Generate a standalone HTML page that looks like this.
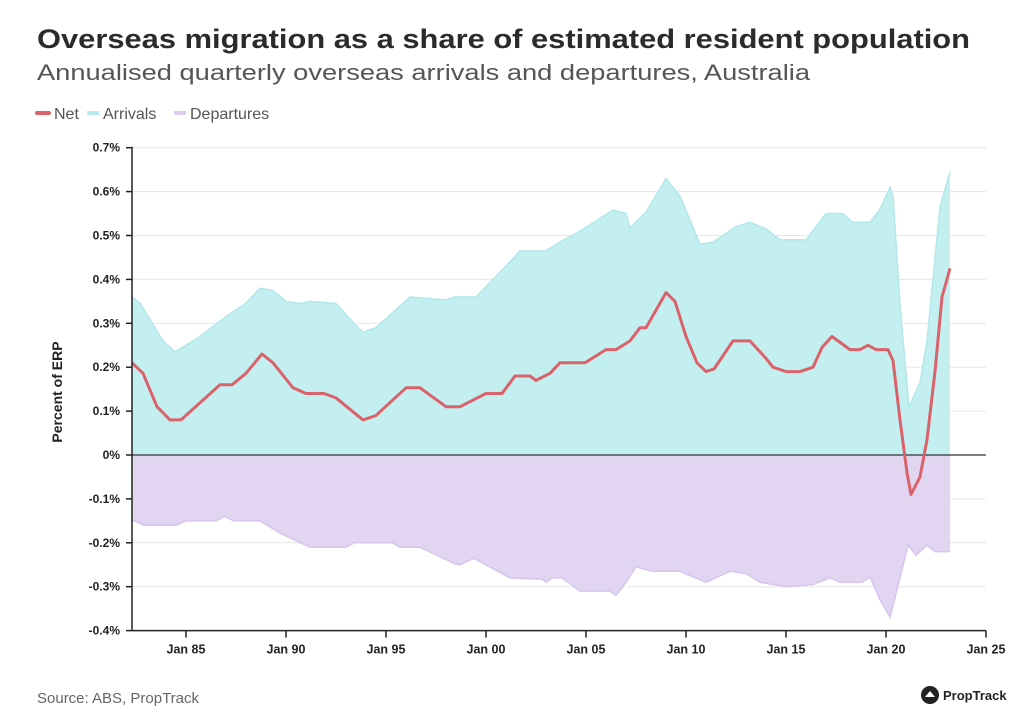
<!DOCTYPE html>
<html><head><meta charset="utf-8"><style>
body{margin:0;background:#fff;}
svg{display:block;font-family:"Liberation Sans",sans-serif;}
</style></head><body>
<svg id="chart" width="1025" height="720" viewBox="0 0 1025 720">
<text x="37" y="48" font-size="27" font-weight="bold" fill="#2b2b2b" textLength="933" lengthAdjust="spacingAndGlyphs">Overseas migration as a share of estimated resident population</text>
<text x="37" y="80" font-size="22" fill="#555" textLength="773" lengthAdjust="spacingAndGlyphs">Annualised quarterly overseas arrivals and departures, Australia</text>
<g>
<g><line x1="37" y1="113" x2="49" y2="113" stroke="#d9626b" stroke-width="4" stroke-linecap="round"/><text x="54" y="119" font-size="16" fill="#555">Net</text></g>
<g><line x1="87" y1="113" x2="99" y2="113" stroke="#b6eaec" stroke-width="4"/><text x="103" y="119" font-size="16" fill="#555">Arrivals</text></g>
<g><line x1="174" y1="113" x2="186" y2="113" stroke="#dccdf0" stroke-width="4"/><text x="190" y="119" font-size="16" fill="#555">Departures</text></g>
</g>
<text transform="translate(62,392) rotate(-90)" text-anchor="middle" font-size="14" font-weight="bold" fill="#222">Percent of ERP</text>
<g id="grid"></g>
<g id="areas"></g>
<g id="axes"></g>
<text x="37" y="703" font-size="15" fill="#666">Source: ABS, PropTrack</text>
<g>
<circle cx="930" cy="695" r="9" fill="#222"/>
<path d="M925 697 L930 691 L935 697 Z" fill="#fff"/>
<text x="943" y="700" font-size="13" font-weight="bold" fill="#222">PropTrack</text>
</g>
</svg>
<script>
const arrYears=[1982.3,1982.7,1983.85,1984.45,1985,1985.7,1987,1988,1988.7,1989.35,1990,1990.8,1991.2,1992.5,1993.4,1993.85,1994.5,1996.2,1998,1998.4,1999.5,2001.2,2001.7,2003,2003.5,2004.7,2006.35,2007,2007.2,2008,2009,2009.7,2010.7,2011.35,2012.5,2013.2,2014,2014.7,2016,2017,2017.85,2018.3,2019.2,2019.7,2020.2,2020.35,2020.7,2021.15,2021.7,2022.05,2022.7,2023.2];
const arrivals=[0.36,0.346,0.26,0.235,0.25,0.27,0.315,0.346,0.38,0.375,0.35,0.345,0.35,0.345,0.30,0.28,0.29,0.36,0.353,0.36,0.36,0.44,0.465,0.465,0.48,0.51,0.558,0.55,0.517,0.553,0.63,0.59,0.48,0.485,0.52,0.53,0.515,0.49,0.49,0.55,0.55,0.53,0.53,0.56,0.61,0.59,0.34,0.11,0.165,0.26,0.565,0.645];
const depYears=[1982.3,1982.9,1984.5,1985,1986.5,1986.9,1987.4,1988.7,1989.7,1991.2,1993,1993.4,1995.3,1995.7,1996.7,1998.4,1998.7,1999.4,2000,2001.2,2002.8,2003,2003.3,2003.8,2004.7,2006.2,2006.5,2007,2007.5,2008.3,2009.7,2011,2012.2,2013,2013.7,2015,2016.35,2017.2,2017.7,2018.8,2019.2,2019.7,2020.2,2020.7,2021.1,2021.5,2022.05,2022.45,2023.2];
const departures=[-0.148,-0.16,-0.16,-0.15,-0.15,-0.14,-0.15,-0.15,-0.178,-0.21,-0.21,-0.2,-0.2,-0.21,-0.21,-0.247,-0.25,-0.235,-0.25,-0.28,-0.283,-0.29,-0.28,-0.28,-0.31,-0.31,-0.32,-0.29,-0.255,-0.265,-0.265,-0.29,-0.265,-0.27,-0.29,-0.30,-0.295,-0.28,-0.29,-0.29,-0.278,-0.33,-0.37,-0.28,-0.205,-0.228,-0.205,-0.22,-0.22];
const netYears=[1982.3,1982.85,1983.55,1984.2,1984.75,1986.7,1987.3,1988,1988.8,1989.35,1990.35,1991,1991.9,1992.5,1993.85,1994.5,1996,1996.7,1998,1998.7,2000,2000.8,2001.45,2002.2,2002.5,2003.2,2003.7,2004.95,2006,2006.5,2007.2,2007.7,2008,2009,2009.45,2010,2010.55,2011,2011.4,2012.35,2013.2,2014,2014.35,2015,2015.7,2016.35,2016.8,2017.3,2018.2,2018.7,2019.1,2019.5,2020.1,2020.35,2020.7,2021.05,2021.25,2021.7,2022.05,2022.45,2022.8,2023.2];
const net=[0.21,0.186,0.11,0.08,0.08,0.16,0.16,0.186,0.23,0.21,0.153,0.14,0.14,0.13,0.08,0.09,0.153,0.153,0.11,0.11,0.14,0.14,0.18,0.18,0.17,0.186,0.21,0.21,0.24,0.24,0.26,0.29,0.29,0.37,0.35,0.27,0.21,0.19,0.196,0.26,0.26,0.22,0.2,0.19,0.19,0.2,0.245,0.27,0.24,0.24,0.25,0.24,0.24,0.215,0.08,-0.04,-0.09,-0.05,0.035,0.19,0.36,0.425];
const yTicks=[0.7,0.6,0.5,0.4,0.3,0.2,0.1,0,-0.1,-0.2,-0.3,-0.4];
const xTickYears=[1985,1990,1995,2000,2005,2010,2015,2020,2025];
const xTickLabels=["Jan 85","Jan 90","Jan 95","Jan 00","Jan 05","Jan 10","Jan 15","Jan 20","Jan 25"];

const NS="http://www.w3.org/2000/svg";
const X0=132,X1=986;
function xs(y){return 186+(y-1985)*20;}
function ys(v){return 455-v*439;}
function mk(tag,attrs,parent){const e=document.createElementNS(NS,tag);for(const k in attrs)e.setAttribute(k,attrs[k]);parent.appendChild(e);return e;}
const grid=document.getElementById('grid'),areas=document.getElementById('areas'),axes=document.getElementById('axes');
yTicks.forEach(t=>{
  const g=mk('line',{x1:X0,x2:X1,y1:ys(t),y2:ys(t),stroke:'#e6e6e6','stroke-width':1},grid);
  
  
  const tk=mk('line',{x1:X0-6,x2:X0,y1:ys(t),y2:ys(t),stroke:'#222','stroke-width':1.5},axes);
  
  
  const lb=mk('text',{x:X0-12,y:ys(t)+4,'text-anchor':'end','font-size':12,'font-weight':'bold',fill:'#222'},axes);
  lb.textContent=(Math.round(t*10)/10)+'%';
  
  
});
function area(years,vals,fill,stroke,name){
  let d='M'+xs(years[0])+','+ys(0);
  years.forEach((y,i)=>{d+=' L'+xs(y).toFixed(1)+','+ys(vals[i]).toFixed(1);});
  d+=' L'+xs(years[years.length-1])+','+ys(0)+' Z';
  const p=mk('path',{d:d,fill:fill},areas);
  
  
  let l='';years.forEach((y,i)=>{l+=(i?' L':'M')+xs(y).toFixed(1)+','+ys(vals[i]).toFixed(1);});
  mk('path',{d:l,fill:'none',stroke:stroke,'stroke-width':1.5},areas);
}
area(arrYears,arrivals,'#c3eff0','#b2e8ea','arrivals-area');
area(depYears,departures,'#e1d5f1','#d6c6ee','departures-area');
const zl=mk('line',{x1:X0,x2:X1,y1:ys(0),y2:ys(0),stroke:'#333','stroke-width':1.2},areas);


let nd='';netYears.forEach((y,i)=>{nd+=(i?' L':'M')+xs(y).toFixed(1)+','+ys(net[i]).toFixed(1);});
const nl=mk('path',{d:nd,fill:'none',stroke:'#d9626b','stroke-width':3,'stroke-linejoin':'round'},areas);


const ya=mk('line',{x1:X0,x2:X0,y1:ys(0.7)-1,y2:ys(-0.4),stroke:'#222','stroke-width':1.5},axes);


const xa=mk('line',{x1:X0,x2:X1,y1:ys(-0.4),y2:ys(-0.4),stroke:'#222','stroke-width':1.5},axes);


xTickYears.forEach((y,i)=>{
  const tk=mk('line',{x1:xs(y),x2:xs(y),y1:ys(-0.4),y2:ys(-0.4)+7,stroke:'#222','stroke-width':1.5},axes);
  
  
  const lb=mk('text',{x:xs(y),y:ys(-0.4)+23,'text-anchor':'middle','font-size':12.5,'font-weight':'bold',fill:'#222'},axes);
  lb.textContent=xTickLabels[i];
  
  
});
</script>
</body></html>
